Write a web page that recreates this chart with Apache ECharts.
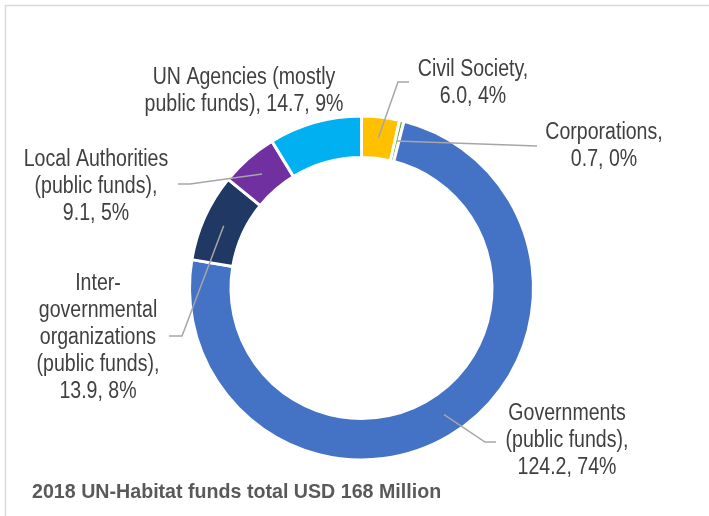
<!DOCTYPE html>
<html>
<head>
<meta charset="utf-8">
<title>2018 UN-Habitat funds</title>
<script src="https://cdn.jsdelivr.net/npm/echarts@6/dist/echarts.min.js"></script>
<style>
  html, body { margin: 0; padding: 0; background: #ffffff; }
  #chart { width: 709px; height: 516px; }
</style>
</head>
<body>
<div id="chart"></div>
<script>
// Funding sources, clockwise from 12 o'clock
const categories = [
  'Civil Society',
  'Corporations',
  'Governments (public funds)',
  'Inter-governmental organizations (public funds)',
  'Local Authorities (public funds)',
  'UN Agencies (mostly public funds)'
];
// USD million
const values = [6.0, 0.7, 124.2, 13.9, 9.1, 14.7];
// How each category name is wrapped in its label
const wrappedNames = [
  'Civil Society,',
  'Corporations,',
  'Governments\n(public funds),',
  'Inter-\ngovernmental\norganizations\n(public funds),',
  'Local Authorities\n(public funds),',
  'UN Agencies (mostly\npublic funds),'
];
const valueBreaks = ['\n', '\n', '\n', '\n', '\n', ' '];
const sliceColors = ['#FFC000', '#70AD47', '#4472C4', '#1F3864', '#7030A0', '#00B0F0'];
const chartTitle = '2018 UN-Habitat funds total USD 168 Million';

// Ring geometry and label anchors / leader-line bends (pixels)
const CENTER = [361.5, 288];
const R_OUT = 172, R_IN = 130.5;
const labelPlacement = [
  { x: 473, y: 83,  bends: [[398, 82], [409, 82]] },
  { x: 604, y: 146, bends: [[537, 146]] },
  { x: 567, y: 441, bends: [[485, 442], [496, 442]] },
  { x: 98,  y: 338, bends: [[182, 336], [169, 336]] },
  { x: 96,  y: 187, bends: [[190, 184], [178, 184]] },
  { x: 244, y: 91,  bends: null }
];

const FONT = "'Liberation Sans', Arial, sans-serif";
const LABEL_SIZE = 23, LABEL_LINE_H = 27, LABEL_SQUEEZE = 0.85;
const total = values.reduce((a, b) => a + b, 0);

// Whole-number percentages that add up to 100 (largest remainder)
function percents(vals) {
  const raw = vals.map(v => v / total * 100);
  const floors = raw.map(Math.floor);
  let left = 100 - floors.reduce((a, b) => a + b, 0);
  const order = raw.map((r, i) => [r - floors[i], i]).sort((a, b) => b[0] - a[0]);
  for (let k = 0; k < left; k++) floors[order[k][1]] += 1;
  return floors;
}
const pct = percents(values);

// Point in the middle of the ring band at the middle angle of a slice
function sliceMidPoint(i) {
  let before = 0;
  for (let k = 0; k < i; k++) before += values[k];
  const midFrac = (before + values[i] / 2) / total;
  const ang = (90 - midFrac * 360) * Math.PI / 180;
  const r = (R_OUT + R_IN) / 2;
  return [CENTER[0] + r * Math.cos(ang), CENTER[1] - r * Math.sin(ang)];
}

const graphics = [{
  type: 'rect',
  shape: { x: 5.5, y: 5.5, width: 730, height: 540 },
  style: { fill: null, stroke: '#D9D9D9', lineWidth: 1.5 },
  silent: true,
  z: 0
}];

// Leader lines, drawn over the ring
values.forEach((v, i) => {
  const place = labelPlacement[i];
  if (!place.bends) return;
  graphics.push({
    type: 'polyline',
    shape: { points: [sliceMidPoint(i)].concat(place.bends) },
    style: { stroke: '#A6A6A6', lineWidth: 1.5, fill: null },
    silent: true,
    z: 10
  });
});

// Data labels: name, value, share
values.forEach((v, i) => {
  const place = labelPlacement[i];
  graphics.push({
    type: 'text',
    x: place.x,
    y: place.y,
    scaleX: LABEL_SQUEEZE,
    style: {
      text: wrappedNames[i] + valueBreaks[i] + v.toFixed(1) + ', ' + pct[i] + '%',
      x: 0, y: 0,
      align: 'center',
      verticalAlign: 'middle',
      font: LABEL_SIZE + 'px ' + FONT,
      lineHeight: LABEL_LINE_H,
      fill: '#404040'
    },
    silent: true,
    z: 10
  });
});

// Caption under the ring
graphics.push({
  type: 'text',
  x: 32,
  y: 492,
  scaleX: 0.935,
  style: {
    text: chartTitle,
    x: 0, y: 0,
    align: 'left',
    verticalAlign: 'middle',
    font: 'bold 21px ' + FONT,
    fill: '#595959'
  },
  silent: true,
  z: 10
});

const chart = echarts.init(document.getElementById('chart'), null, { renderer: 'canvas' });

chart.setOption({
  animation: false,
  backgroundColor: '#ffffff',
  graphic: graphics,
  series: [{
    type: 'pie',
    center: CENTER,
    radius: [R_IN, R_OUT],
    startAngle: 90,
    clockwise: true,
    itemStyle: { borderColor: '#ffffff', borderWidth: 3 },
    label: { show: false },
    labelLine: { show: false },
    emphasis: { disabled: true },
    data: categories.map((name, i) => ({
      name: name,
      value: values[i],
      itemStyle: { color: sliceColors[i] }
    }))
  }]
});
</script>
</body>
</html>
